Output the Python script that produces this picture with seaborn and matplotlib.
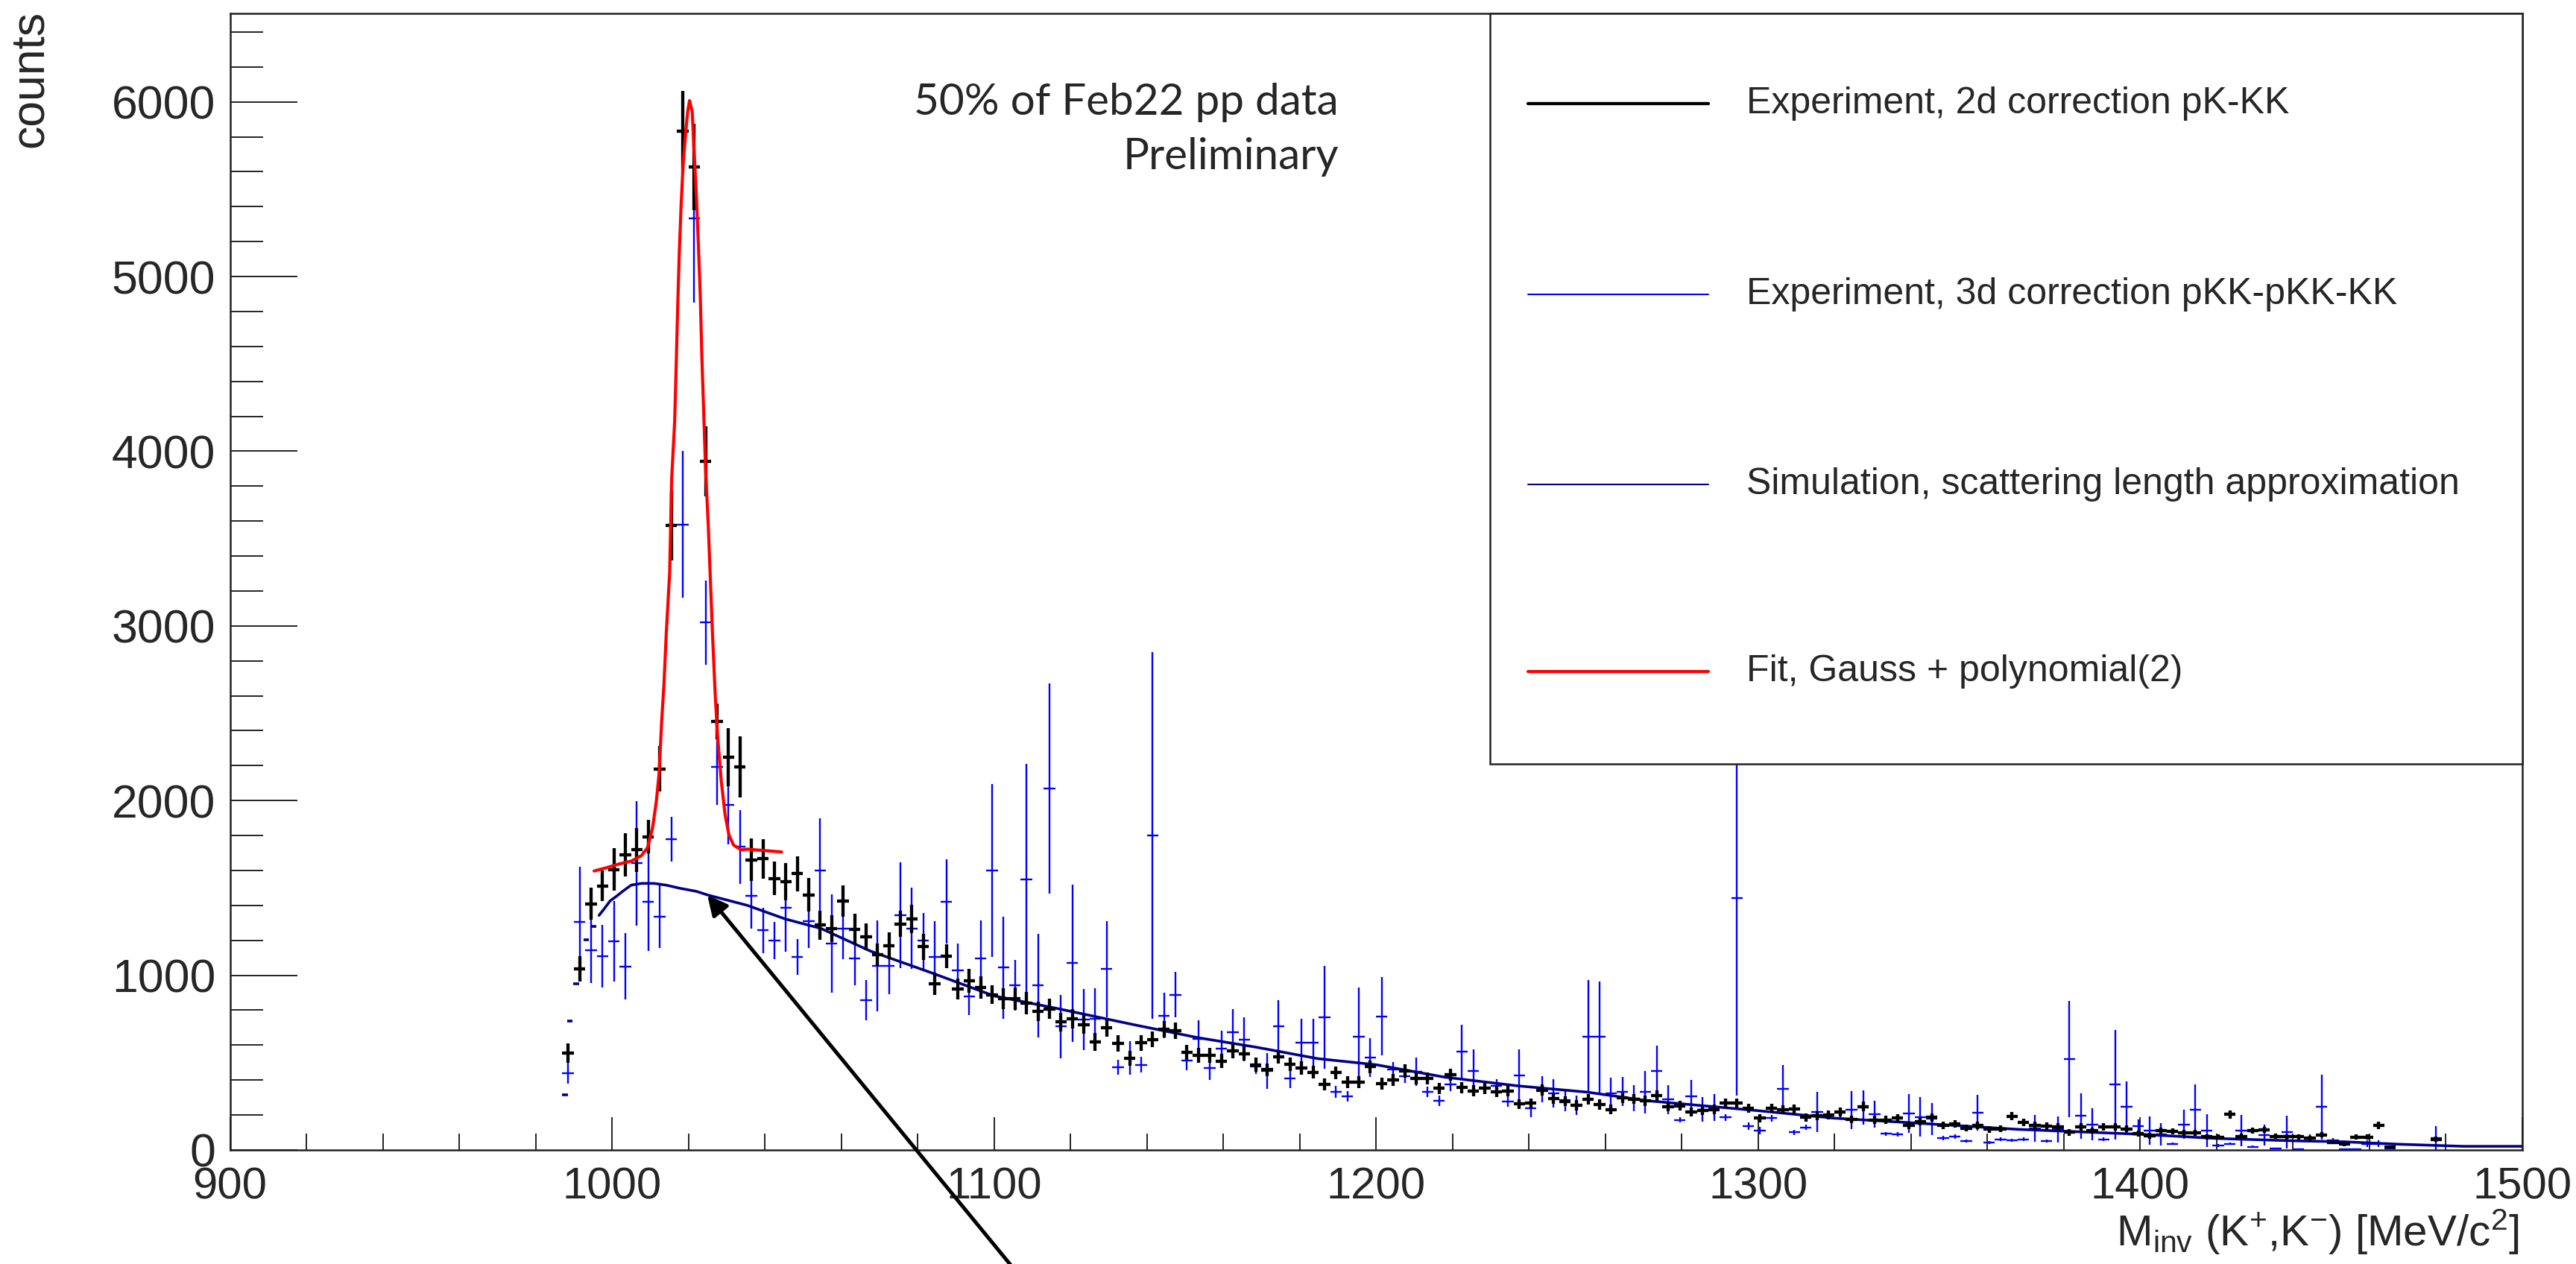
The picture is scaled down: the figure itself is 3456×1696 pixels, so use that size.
import numpy as np
import matplotlib
matplotlib.use("Agg")
import matplotlib.pyplot as plt
from matplotlib.patches import Rectangle
from matplotlib.ticker import MultipleLocator
import seaborn as sns

# ---------------------------------------------------------------- binning
BIN_LO, BIN_HI, BIN_W = 987.0, 1500.0, 3.0
mass = np.arange(BIN_LO + BIN_W / 2, BIN_HI, BIN_W)      # 171 bin centres

NAN = np.nan
# Experiment, 2d correction pK-KK (counts per 3 MeV bin, 988.5 ... 1465.5)
exp2d_counts = [
    556, 1036, 1410, 1512, 1606, 1689, 1718, 1794, 2182, 3574,
    5831, 5627, 3941, 2453, 2249, 2192, 1661, 1667, 1554, 1536,
    1581, 1460, 1287, 1268, 1425, 1263, 1220, 1116, 1169, 1294,
    1323, 1163, 953, 1109, 920, 967, 931, 889, 865, 867,
    839, 793, 808, 732, 751, 718, 619, 700, 609, 526,
    613, 633, 690, 684, 559, 542, 542, 509, 566, 552,
    488, 459, 533, 491, 471, 445, 377, 442, 388, 388,
    476, 378, 402, 452, 410, 410, 353, 431, 357, 338,
    353, 334, 338, 263, 267, 343, 296, 279, 256, 289,
    260, 232, 300, 292, 282, 310, 249, 253, 218, 225,
    232, 267, 267, 239, 182, 239, 232, 235, 186, 196,
    201, 218, 175, 249, 172, 172, 182, 139, 164, 186,
    139, 149, 125, 139, 118, 121, 193, 158, 139, 135,
    132, 101, 132, 111, 132, 132, 121, 92, 82, 111,
    107, 97, 97, 75, 73, 203, 78, 111, 115, 78,
    75, 75, 68, 87, 44, 33, 73, 73, 139, 18,
    NAN, NAN, NAN, 61, NAN, NAN, NAN, NAN, NAN, NAN, NAN,
]
exp2d_err = [
    55, 72, 91, 86, 120, 123, 127, 96, 130, 200,
    233, 246, 200, 102, 165, 176, 121, 114, 96, 107,
    102, 96, 82, 78, 89, 89, 75, 64, 75, 75,
    82, 75, 64, 68, 60, 68, 64, 53, 60, 64,
    64, 57, 57, 53, 57, 53, 50, 53, 46, 43,
    45, 45, 47, 47, 42, 41, 41, 40, 42, 41,
    39, 38, 40, 39, 38, 37, 34, 37, 35, 35,
    38, 34, 35, 37, 35, 35, 33, 36, 33, 32,
    33, 32, 32, 28, 28, 32, 30, 29, 28, 29,
    28, 27, 30, 29, 29, 30, 27, 27, 26, 26,
    27, 28, 28, 27, 24, 27, 26, 27, 24, 24,
    25, 26, 23, 27, 23, 23, 24, 21, 22, 24,
    21, 22, 20, 21, 19, 19, 24, 22, 21, 21,
    20, 18, 20, 19, 20, 20, 19, 17, 16, 19,
    18, 17, 17, 15, 15, 25, 16, 19, 19, 16,
    15, 15, 15, 16, 12, 10, 15, 15, 21, 8,
    NAN, NAN, NAN, 15, NAN, NAN, NAN, NAN, NAN, NAN, NAN,
]

# Experiment, 3d correction pKK-pKK-KK
exp3d_counts = [
    441, 1305, 1145, 1109, 1193, 1050, 1641, 1420, 1337, 1779,
    3580, 5335, 3019, 2194, 1974, 1735, 1456, 1258, 1199, 1386,
    1105, 1311, 1600, 1183, 1266, 1098, 857, 1055, 1055, 1344,
    1268, 1197, 1105, 1422, 1027, 877, 1098, 1600, 1045, 943,
    1547, 941, 2069, 707, 1069, 747, 751, 1035, 474, 526,
    488, 1800, 769, 889, 513, 637, 471, 580, 675, 633,
    476, 452, 708, 410, 613, 613, 758, 334, 306, 647,
    530, 765, 459, 424, 448, 334, 282, 377, 563, 452,
    353, 367, 277, 428, 239, 348, 324, 286, 257, 648,
    648, 324, 334, 296, 331, 452, 289, 172, 306, 232,
    243, 186, 1440, 137, 111, 182, 348, 101, 129, 218,
    201, 215, 229, 243, 206, 92, 90, 210, 189, 178,
    68, 78, 51, 213, 43, 61, 54, 61, 125, 51,
    118, 520, 196, 146, 61, 374, 246, 135, 111, 90,
    36, 146, 232, 111, 26, 36, 111, 18, 85, 7,
    104, 5, 68, 246, 54, 4, 4, 36, 36, 7,
    NAN, NAN, NAN, 68, NAN, NAN, NAN, NAN, NAN, NAN, NAN,
]
exp3d_err = [
    60, 317, 190, 180, 230, 190, 355, 280, 180, 130,
    420, 485, 240, 220, 225, 210, 190, 130, 108, 250,
    103, 156, 299, 281, 174, 154, 114, 260, 162, 304,
    232, 160, 206, 242, 155, 105, 215, 494, 292, 144,
    665, 295, 600, 182, 449, 176, 176, 274, 43, 96,
    44, 1050, 131, 129, 57, 107, 68, 101, 132, 125,
    40, 103, 148, 57, 137, 139, 294, 35, 30, 281,
    112, 224, 45, 40, 82, 30, 30, 40, 154, 126,
    35, 40, 30, 149, 53, 75, 80, 64, 55, 325,
    318, 91, 83, 76, 122, 147, 83, 15, 96, 71,
    75, 20, 1130, 20, 20, 20, 139, 15, 15, 116,
    25, 30, 110, 97, 77, 12, 12, 110, 112, 92,
    12, 12, 10, 103, 10, 10, 8, 10, 76, 8,
    76, 334, 130, 92, 10, 314, 148, 40, 83, 64,
    8, 83, 142, 94, 8, 8, 90, 6, 60, 3,
    94, 3, 20, 185, 15, 3, 3, 20, 20, 4,
    NAN, NAN, NAN, 68, NAN, NAN, NAN, NAN, NAN, NAN, NAN,
]

# Simulation, scattering length approximation
sim_mass = [987.7, 989.0, 990.6, 993.3, 995.2, 996.6, 998.0, 999.5, 1001.2,
            1002.8, 1005.0, 1007.7, 1011.0, 1014.2, 1018.0, 1022.0, 1025.3,
            1035.3, 1045.4, 1054.7, 1067.7, 1083.9, 1100.0, 1116.3, 1136.4,
            1153.1, 1169.0, 1184.7, 1200.0, 1217.9, 1237.1, 1255.3, 1271.0,
            1300.0, 1320.0, 1340.0, 1368.0, 1400.0, 1420.0, 1441.0, 1453.3,
            1467.6, 1484.6, 1500.0]
sim_counts = [316, 738, 953, 1205, 1282, 1343, 1382, 1426, 1453,
              1481, 1516, 1526, 1526, 1516, 1497, 1481, 1458,
              1401, 1322, 1268, 1138, 1012, 882, 811, 718,
              644, 587, 523, 488, 417, 367, 331, 282,
              225, 182, 156, 118, 90, 66, 52, 47,
              33, 21, 21]

# Fit, Gauss + polynomial(2)
fit_mass = [995.3, 998.6, 1001.8, 1005.1, 1007.7, 1009.3, 1010.6, 1011.6, 1012.3,
            1013.0, 1013.6, 1014.2, 1015.1, 1015.6, 1016.4, 1016.8, 1017.2, 1017.6,
            1018.1, 1018.6, 1019.3, 1019.8, 1020.3, 1021.0, 1021.4, 1022.1, 1022.6,
            1023.1, 1023.5, 1024.0, 1024.5, 1025.2, 1025.7, 1026.3, 1027.0, 1027.6,
            1028.6, 1029.6, 1030.6, 1031.8, 1033.8, 1035.3, 1044.4]
fit_counts = [1597, 1616, 1637, 1654, 1685, 1731, 1842, 1996, 2150,
              2457, 2668, 2956, 3311, 3836, 4172, 4492, 4834, 5133,
              5414, 5640, 5828, 5943, 6007, 5943, 5753, 5452, 5188,
              4889, 4552, 4221, 3892, 3573, 3292, 2956, 2610, 2380,
              2111, 1919, 1804, 1746, 1718, 1722, 1706]

legend_labels = ["Experiment, 2d correction pK-KK",
                 "Experiment, 3d correction pKK-pKK-KK",
                 "Simulation, scattering length approximation",
                 "Fit, Gauss + polynomial(2)"]

# ---------------------------------------------------------------- style
sns.set_theme(style="ticks")
plt.rcParams["font.family"] = ["Liberation Sans", "DejaVu Sans"]
plt.rcParams["mathtext.default"] = "regular"

C_EXP2D = "#000000"
C_EXP3D = "#0000ff"
C_SIM = "#00008c"
C_FIT = "#ff0000"

W, H = 3456, 1696
fig = plt.figure(figsize=(W / 100, H / 100), dpi=100)
fig.patch.set_facecolor("white")
ax = fig.add_axes([308.6 / W, 1 - 1543 / H, 3075 / W, 1525.4 / H])
ax.set_facecolor("white")

# ---------------------------------------------------------------- data
ax.errorbar(mass, exp3d_counts, yerr=exp3d_err, xerr=BIN_W / 2, fmt="none",
            ecolor=C_EXP3D, elinewidth=1.7, capsize=0, zorder=2)

sim_m = np.array(sim_mass)
sim_c = np.array(sim_counts)
low = sim_m < 996
ax.hlines(sim_c[low], sim_m[low] - 0.7, sim_m[low] + 0.7, color=C_SIM,
          linewidth=2.6, zorder=3)
sns.lineplot(x=sim_m[~low], y=sim_c[~low], ax=ax, color=C_SIM, linewidth=2.6,
             sort=False, estimator=None, zorder=3)

ax.errorbar(mass, exp2d_counts, yerr=exp2d_err, xerr=BIN_W / 2, fmt="none",
            ecolor=C_EXP2D, elinewidth=3.1, capsize=0, zorder=4)

sns.lineplot(x=fit_mass, y=fit_counts, ax=ax, color=C_FIT, linewidth=3.0,
             sort=False, estimator=None, zorder=5)

# ---------------------------------------------------------------- axes
ax.set_xlim(900, 1500)
ax.set_ylim(0, 6508)
ax.set_xlabel("")
ax.set_ylabel("")
ax.set_xticks(np.arange(900, 1501, 100))
ax.set_yticks(np.arange(0, 6001, 1000))
ax.xaxis.set_minor_locator(MultipleLocator(20))
ax.yaxis.set_minor_locator(MultipleLocator(200))
ax.tick_params(axis="both", which="both", direction="in", top=False, right=False,
               color="#222222", width=1.4)
ax.tick_params(axis="x", which="major", length=32, pad=16)
ax.tick_params(axis="x", which="minor", length=16)
ax.tick_params(axis="y", which="major", length=65, pad=14)
ax.tick_params(axis="y", which="minor", length=32)
for lab in ax.get_xticklabels():
    lab.set_fontfamily("Liberation Sans")
    lab.set_fontsize(43)
for lab in ax.get_yticklabels():
    lab.set_fontfamily("Liberation Sans")
    lab.set_fontsize(45)
for sp in ax.spines.values():
    sp.set_visible(True)
    sp.set_color("#222222")
    sp.set_linewidth(1.8)

fig.text(40 / W, 1 - 14 / H, "counts", rotation=90, ha="center", va="top",
         fontsize=45, family="Liberation Sans")
fig.text(3380 / W, 1 - 1672 / H,
         r"M$_{inv}$ (K$^{+}$,K$^{-}$) [MeV/c$^{2}$]",
         ha="right", va="baseline", fontsize=42, family="Liberation Sans")

# ---------------------------------------------------------------- annotation
ax.text(1190.2, 5926, "50% of Feb22 pp data", ha="right", va="baseline",
        fontsize=42, family="Lato", zorder=6)
ax.text(1190.2, 5614, "Preliminary", ha="right", va="baseline",
        fontsize=42, family="Lato", zorder=6)

ax.annotate("", xy=(1024.96, 1459), xycoords="data",
            xytext=(1359 / W, -0.003), textcoords="figure fraction",
            arrowprops=dict(arrowstyle="-|>", color="black", lw=3.6,
                            mutation_scale=40, shrinkA=0, shrinkB=0),
            annotation_clip=False, zorder=7)

# ---------------------------------------------------------------- legend box
x0, y0 = (1999 - 308.6) / 3075, (1543 - 1025) / 1525.4
ax.add_patch(Rectangle((x0, y0), 1 - x0, 1 - y0, transform=ax.transAxes,
                       facecolor="white", edgecolor="#222222", linewidth=1.8,
                       zorder=8, clip_on=False))
entry_y = [(1543 - yy) / 1525.4 for yy in (139, 395, 650, 901)]
hx0, hx1 = (2050 - 308.6) / 3075, (2292 - 308.6) / 3075
tx = (2343 - 308.6) / 3075
styles = [(C_EXP2D, 3.1), (C_EXP3D, 1.5), (C_SIM, 1.5), (C_FIT, 3.0)]
for yy, (col, lw), lab in zip(entry_y, styles, legend_labels):
    ax.plot([hx0, hx1], [yy, yy], transform=ax.transAxes, color=col,
            linewidth=lw, zorder=9, clip_on=False)
    ax.text(tx, yy, lab, transform=ax.transAxes, ha="left", va="center",
            fontsize=36, family="Liberation Sans", zorder=9)

fig.savefig("out.png", dpi=100, facecolor="white")
